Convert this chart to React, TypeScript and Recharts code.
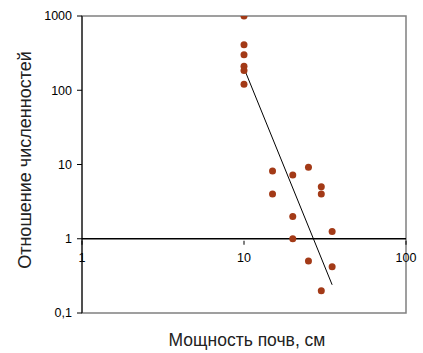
// App.tsx
import React from "react";
import {
  ScatterChart, Scatter, XAxis, YAxis, ReferenceLine, ReferenceArea,
} from "recharts";

// soil thickness, cm
const depthCm = [10, 10, 10, 10, 10, 10, 15, 15, 20, 20, 20, 25, 25, 30, 30, 30, 35, 35];
// abundance ratio
const ratio = [1000, 410, 300, 210, 185, 120, 8.2, 4.0, 7.2, 2.0, 1.0, 9.2, 0.5, 5.0, 4.0, 0.2, 1.25, 0.42];

// power trendline endpoints
const trendX = [10, 35];
const trendY = [198, 0.24];

const xTicks = [1, 10, 100];
const yTicks = [0.1, 1, 10, 100, 1000];

const points = depthCm.map((x, i) => ({ x, y: ratio[i] }));
const trend = trendX.map((x, i) => ({ x, y: trendY[i] }));

const W = 423;
const H = 353;
const X_AXIS_H = 30;
const M = { top: 16, right: 17, bottom: 10, left: 22 };
const plotH = H - M.top - M.bottom - X_AXIS_H;
// x axis crosses at y = 1: one decade (of four) above the bottom
const crossShift = plotH / 4;

const FONT = "'Liberation Sans', Arial, sans-serif";

const fmt = (v: number) => String(v).replace(".", ",");

const XTick = ({ x, y, payload }: any) => {
  const y0 = y - crossShift;
  return (
    <g>
      <line x1={x} x2={x} y1={y0} y2={y0 + 4} stroke="#000" />
      <text x={x} y={y0 + 21} textAnchor="middle" fontSize={12.5} fill="#000" fontFamily={FONT}>
        {fmt(payload.value)}
      </text>
    </g>
  );
};

const Dot = ({ cx, cy }: any) => <circle cx={cx} cy={cy} r={3.5} fill="#A33A17" />;

export default function App() {
  return (
    <div style={{ position: "absolute", left: 0, top: 0, width: W, height: H, background: "#fff", fontFamily: FONT }}>
      <ScatterChart width={W} height={H} margin={M}>
        <ReferenceArea x1={1} x2={100} y1={0.1} y2={1000} fill="none" stroke="#808080" strokeWidth={1.5} ifOverflow="visible" />
        <XAxis
          type="number"
          dataKey="x"
          scale="log"
          domain={[1, 100]}
          ticks={xTicks}
          allowDataOverflow
          axisLine={false}
          tickLine={false}
          tick={<XTick />}
          tickSize={0}
          height={X_AXIS_H}
        />
        <YAxis
          type="number"
          dataKey="y"
          scale="log"
          domain={[0.1, 1000]}
          ticks={yTicks}
          allowDataOverflow
          width={60}
          tickFormatter={fmt}
          axisLine={{ stroke: "#000" }}
          tickLine={{ stroke: "#000" }}
          tickSize={5}
          tickMargin={5}
          tick={{ fontSize: 12.5, fill: "#000", fontFamily: FONT }}
        />
        <ReferenceLine y={1} stroke="#000" strokeWidth={1.3} />
        <Scatter data={trend} line={{ stroke: "#000", strokeWidth: 1 }} shape={() => <g />} isAnimationActive={false} />
        <Scatter data={points} shape={<Dot />} isAnimationActive={false} />
      </ScatterChart>
      <div
        style={{
          position: "absolute", left: 25 - 150, top: 160 - 10, width: 300, height: 20,
          lineHeight: "20px", textAlign: "center", fontSize: 18, color: "#222",
          transform: "rotate(-90deg)", transformOrigin: "center",
        }}
      >
        Отношение численностей
      </div>
      <div
        style={{
          position: "absolute", left: 247 - 150, top: 330, width: 300, height: 20,
          lineHeight: "20px", textAlign: "center", fontSize: 17.5, color: "#222",
        }}
      >
        Мощность почв, см
      </div>
    </div>
  );
}
